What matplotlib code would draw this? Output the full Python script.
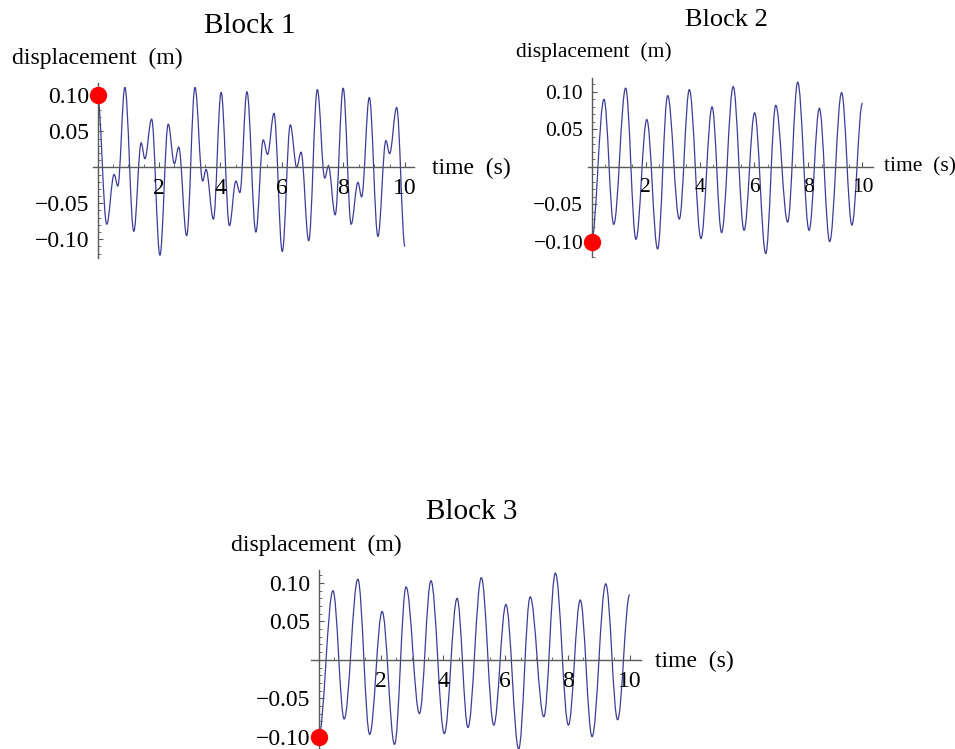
import matplotlib
matplotlib.use("Agg")
import matplotlib.pyplot as plt
from matplotlib.path import Path
from matplotlib.patches import PathPatch
from matplotlib.ticker import FixedLocator, FixedFormatter, MultipleLocator

plt.rcParams['font.family'] = ['Liberation Serif', 'DejaVu Serif']

# turning points of each block's displacement curve (time s, displacement m)
t1 = [0, 0.30, 0.54, 0.66, 0.89, 1.18, 1.42, 1.54, 1.76, 2.03, 2.30, 2.50, 2.64, 2.90, 3.17,
      3.42, 3.53, 3.77, 4.02, 4.29, 4.50, 4.63, 4.86, 5.15, 5.39, 5.53, 5.74, 6.01, 6.27, 6.48,
      6.62, 6.87, 7.15, 7.39, 7.51, 7.73, 7.99, 8.25, 8.47, 8.59, 8.84, 9.12, 9.38, 9.50, 9.73, 10.0]
x1 = [0.100, -0.079, -0.010, -0.026, 0.111, -0.089, 0.034, 0.012, 0.067, -0.122, 0.060, 0.005,
      0.028, -0.095, 0.111, -0.019, -0.003, -0.072, 0.104, -0.081, -0.019, -0.035, 0.105, -0.090,
      0.038, 0.018, 0.075, -0.117, 0.059, 0.000, 0.021, -0.102, 0.108, -0.015, 0.002, -0.066,
      0.110, -0.079, -0.021, -0.041, 0.097, -0.096, 0.037, 0.019, 0.083, -0.110]

t2 = [0, 0.46, 0.82, 1.26, 1.64, 2.04, 2.44, 2.81, 3.24, 3.61, 4.04, 4.45, 4.80, 5.23, 5.63,
      6.02, 6.43, 6.80, 7.24, 7.61, 8.03, 8.41, 8.79, 9.23, 9.61, 10.0]
x2 = [-0.100, 0.090, -0.077, 0.105, -0.097, 0.063, -0.110, 0.095, -0.070, 0.103, -0.096, 0.080,
      -0.088, 0.107, -0.085, 0.072, -0.116, 0.082, -0.074, 0.113, -0.085, 0.078, -0.100, 0.099,
      -0.078, 0.085]

# block 3 traces the same curve as block 2
t3 = list(t2)
x3 = list(x2)

x_ticks = [2, 4, 6, 8, 10]
x_tick_labels = ['2', '4', '6', '8', '10']
y_ticks = [-0.10, -0.05, 0.05, 0.10]
y_tick_labels = ['\u22120.10', '\u22120.05', '0.05', '0.10']

W, H = 955, 749
line_color = '#3d3d99'


def curve_path(t, x, k=0.364):
    # smooth curve through turning points (flat tangent at each one)
    verts = [(t[0], x[0])]
    codes = [Path.MOVETO]
    for i in range(len(t) - 1):
        dt = t[i + 1] - t[i]
        verts += [(t[i] + k * dt, x[i]), (t[i + 1] - k * dt, x[i + 1]), (t[i + 1], x[i + 1])]
        codes += [Path.CURVE4] * 3
    return Path(verts, codes)


def block(fig, rect, t, x, xlim, ylim, fs):
    ax = fig.add_axes(rect)
    ax.add_patch(PathPatch(curve_path(t, x), fill=False, edgecolor=line_color, lw=0.9))
    ax.plot([t[0]], [x[0]], 'o', color='red', ms=11.5, clip_on=False, zorder=5)
    ax.set_xlim(*xlim)
    ax.set_ylim(*ylim)
    ax.patch.set_visible(False)
    for s in ['top', 'right']:
        ax.spines[s].set_visible(False)
    for s in ['left', 'bottom']:
        ax.spines[s].set_position(('data', 0))
        ax.spines[s].set_color('0.35')
        ax.spines[s].set_linewidth(1.0)
    ax.xaxis.set_major_locator(FixedLocator(x_ticks))
    ax.xaxis.set_major_formatter(FixedFormatter(x_tick_labels))
    ax.xaxis.set_minor_locator(MultipleLocator(0.5))
    ax.yaxis.set_major_locator(FixedLocator(y_ticks))
    ax.yaxis.set_major_formatter(FixedFormatter(y_tick_labels))
    ax.yaxis.set_minor_locator(MultipleLocator(0.01))
    ax.tick_params(which='both', direction='in', color='0.35', labelsize=fs)
    ax.tick_params(axis='x', which='major', length=3.5, pad=8)
    ax.tick_params(axis='y', which='major', length=3.5, pad=6)
    ax.tick_params(which='minor', length=2)
    return ax


def ftext(x, y, s, size, ha='left'):
    fig.text(x / W, 1 - y / H, s, fontsize=size, ha=ha, va='center')


fig = plt.figure(figsize=(W / 100, H / 100), dpi=100)

# Block 1
block(fig, [92.9 / W, 1 - 258 / H, 321.3 / W, 174.9 / H], t1, x1,
      (-0.15, 10.3), (-0.126, 0.117), 17)
ftext(250, 26, 'Block 1', 21, ha='center')
ftext(12, 58, 'displacement  (m)', 17)
ftext(432, 168, 'time  (s)', 17)

# Block 2
block(fig, [588 / W, 1 - 256.5 / H, 285.3 / W, 178.1 / H], t2, x2,
      (-0.13, 10.4), (-0.12, 0.118), 15.5)
ftext(726, 20, 'Block 2', 19, ha='center')
ftext(516, 52, 'displacement  (m)', 15.5)
ftext(884, 167, 'time  (s)', 15.5)

# Block 3
block(fig, [310.9 / W, 1 - 752 / H, 329.7 / W, 182 / H], t3, x3,
      (-0.25, 10.35), (-0.12, 0.117), 17)
ftext(472, 512, 'Block 3', 21, ha='center')
ftext(231, 545, 'displacement  (m)', 17)
ftext(655, 661, 'time  (s)', 17)

fig.savefig('out.png', dpi=100)
